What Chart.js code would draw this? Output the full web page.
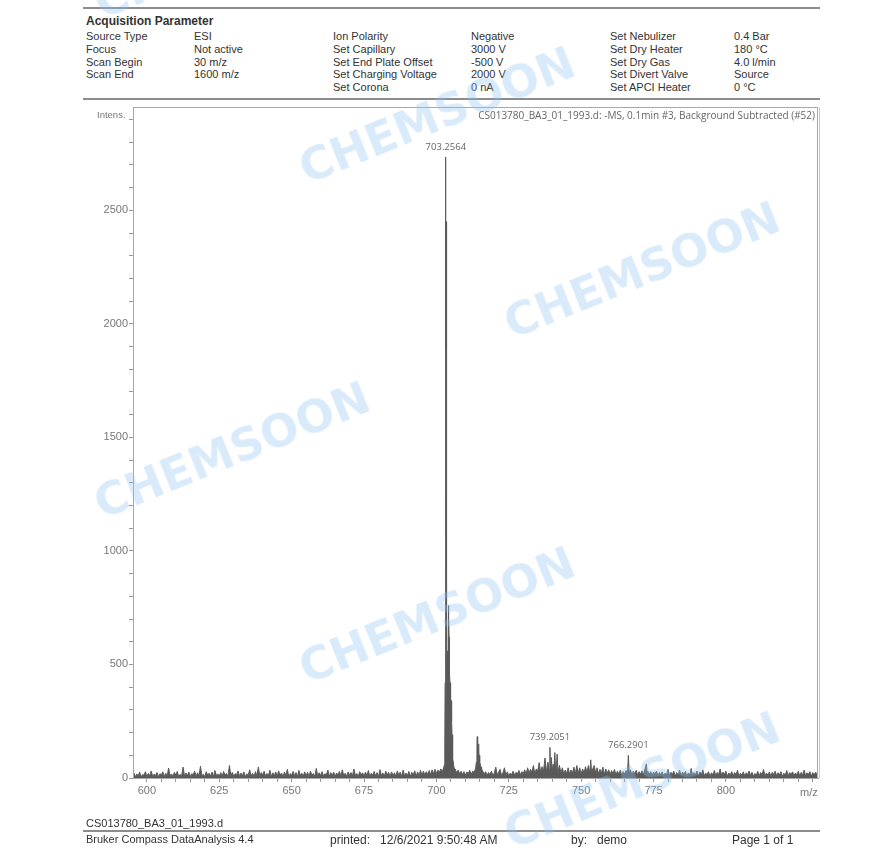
<!DOCTYPE html>
<html>
<head>
<meta charset="utf-8">
<script src="https://cdn.jsdelivr.net/npm/chart.js@4.4.1/dist/chart.umd.min.js"></script>
<style>
  body { margin: 0; background: #fff; width: 874px; height: 866px; position: relative; overflow: hidden;
         font-family: "Liberation Sans", Arial, sans-serif; color: #333; }
  .t { position: absolute; font-size: 11px; line-height: 12px; white-space: nowrap; }
  .f { font-size: 12px; line-height: 14px; }
  .hr { position: absolute; left: 83px; width: 737px; height: 2px; background: #8c8c8c; }
  #wrap { position: absolute; left: 0; top: 0; width: 874px; height: 866px; }
  .wm { position: absolute; font: bold 45px "DejaVu Sans", sans-serif; color: rgba(140, 195, 240, 0.33);
        transform: translate(-50%, -50%) rotate(-22deg); white-space: nowrap; pointer-events: none; }
</style>
</head>
<body>
<div class="hr" style="top:7px"></div>
<div class="t" style="left:86px;top:15px;font-size:12px;font-weight:bold">Acquisition Parameter</div>

<div class="t" style="left:86px;top:30px">Source Type</div>
<div class="t" style="left:86px;top:43px">Focus</div>
<div class="t" style="left:86px;top:56px">Scan Begin</div>
<div class="t" style="left:86px;top:68px">Scan End</div>
<div class="t" style="left:194px;top:30px">ESI</div>
<div class="t" style="left:194px;top:43px">Not active</div>
<div class="t" style="left:194px;top:56px">30 m/z</div>
<div class="t" style="left:194px;top:68px">1600 m/z</div>

<div class="t" style="left:333px;top:30px">Ion Polarity</div>
<div class="t" style="left:333px;top:43px">Set Capillary</div>
<div class="t" style="left:333px;top:56px">Set End Plate Offset</div>
<div class="t" style="left:333px;top:68px">Set Charging Voltage</div>
<div class="t" style="left:333px;top:81px">Set Corona</div>
<div class="t" style="left:471px;top:30px">Negative</div>
<div class="t" style="left:471px;top:43px">3000 V</div>
<div class="t" style="left:471px;top:56px">-500 V</div>
<div class="t" style="left:471px;top:68px">2000 V</div>
<div class="t" style="left:471px;top:81px">0 nA</div>

<div class="t" style="left:610px;top:30px">Set Nebulizer</div>
<div class="t" style="left:610px;top:43px">Set Dry Heater</div>
<div class="t" style="left:610px;top:56px">Set Dry Gas</div>
<div class="t" style="left:610px;top:68px">Set Divert Valve</div>
<div class="t" style="left:610px;top:81px">Set APCI Heater</div>
<div class="t" style="left:734px;top:30px">0.4 Bar</div>
<div class="t" style="left:734px;top:43px">180 °C</div>
<div class="t" style="left:734px;top:56px">4.0 l/min</div>
<div class="t" style="left:734px;top:68px">Source</div>
<div class="t" style="left:734px;top:81px">0 °C</div>
<div class="hr" style="top:98px"></div>

<div id="wrap"><canvas id="spec" width="874" height="866"></canvas></div>

<div class="t" style="left:97px;top:109px;font-size:9.5px;color:#777">Intens.</div>
<div class="t" style="left:800px;top:786px;color:#777">m/z</div>

<div class="t f" style="left:86px;top:816px;font-size:11px">CS013780_BA3_01_1993.d</div>
<div class="hr" style="top:830px"></div>
<div class="t" style="left:86px;top:833px">Bruker Compass DataAnalysis 4.4</div>
<div class="t f" style="left:330px;top:833px">printed:&nbsp;&nbsp; 12/6/2021 9:50:48 AM</div>
<div class="t f" style="left:571px;top:833px">by:&nbsp;&nbsp; demo</div>
<div class="t f" style="left:732px;top:833px">Page 1 of 1</div>

<div class="wm" style="left:232px;top:-50px">CHEMSOON</div>
<div class="wm" style="left:437px;top:115px">CHEMSOON</div>
<div class="wm" style="left:642px;top:270px">CHEMSOON</div>
<div class="wm" style="left:232px;top:450px">CHEMSOON</div>
<div class="wm" style="left:437px;top:615px">CHEMSOON</div>
<div class="wm" style="left:642px;top:780px">CHEMSOON</div>

<script>
// spectrum (m/z vs intensity)
const mz = [
  595,595.5,596,596.5,597,597.5,598,598.5,599,599.5,600,600.5,601,601.5,602,602.5,603,603.5,604,604.5,
  605,605.5,606,606.5,607,607.5,608,608.5,609,609.5,610,610.5,611,611.5,612,612.5,613,613.5,614,614.5,
  615,615.5,616,616.5,617,617.5,618,618.5,619,619.5,620,620.5,621,621.5,622,622.5,623,623.5,624,624.5,
  625,625.5,626,626.5,627,627.5,628,628.5,629,629.5,630,630.5,631,631.5,632,632.5,633,633.5,634,634.5,
  635,635.5,636,636.5,637,637.5,638,638.5,639,639.5,640,640.5,641,641.5,642,642.5,643,643.5,644,644.5,
  645,645.5,646,646.5,647,647.5,648,648.5,649,649.5,650,650.5,651,651.5,652,652.5,653,653.5,654,654.5,
  655,655.5,656,656.5,657,657.5,658,658.5,659,659.5,660,660.5,661,661.5,662,662.5,663,663.5,664,664.5,
  665,665.5,666,666.5,667,667.5,668,668.5,669,669.5,670,670.5,671,671.5,672,672.5,673,673.5,674,674.5,
  675,675.5,676,676.5,677,677.5,678,678.5,679,679.5,680,680.5,681,681.5,682,682.5,683,683.5,684,684.5,
  685,685.5,686,686.5,687,687.5,688,688.5,689,689.5,690,690.5,691,691.5,692,692.5,693,693.5,694,694.5,
  695,695.5,696,696.5,697,697.5,698,698.5,699,699.5,700,700.5,701,701.5,702,702.5,
  702.8,702.9,703.0,703.08,703.14,703.2,703.24,703.28,703.32,703.36,703.4,703.44,703.48,703.52,703.56,703.6,703.65,703.7,703.75,703.8,
  703.85,703.9,703.95,704.0,704.05,704.1,704.15,704.2,704.26,704.32,704.38,704.44,704.5,704.6,704.7,704.8,704.9,705.0,705.1,705.2,
  705.3,705.4,705.5,705.6,705.7,705.8,705.9,706.1,706.5,707,707.5,708,708.5,709,709.5,710,710.5,711,711.5,712,
  712.5,713,713.5,713.8,714.0,714.1,714.2,714.3,714.4,714.5,714.6,714.7,714.8,714.9,715.0,715.2,715.4,715.6,716,716.5,
  717,717.5,718,718.5,719,719.5,720,720.5,721,721.5,722,722.5,723,723.5,724,724.5,725,725.5,726,726.5,
  727,727.5,728,728.5,729,729.5,730,730.5,731,731.5,732,732.5,733,733.5,734,734.5,735,735.5,736,736.5,
  737,737.5,738,738.5,739,739.2,739.4,739.7,740,740.3,740.6,740.9,741.2,741.5,741.7,742,742.5,743,743.5,744,
  744.5,745,745.5,746,746.5,747,747.5,748,748.5,749,749.5,750,750.5,751,751.5,752,752.5,753,753.3,753.6,
  754,754.5,755,755.5,756,756.5,757,757.5,758,758.5,759,759.5,760,760.5,761,761.5,762,762.5,763,763.5,
  764,764.5,765,765.5,766,766.29,766.6,767,767.5,768,768.5,769,769.5,770,770.5,771,771.5,772,772.5,772.8,
  773,773.5,774,774.5,775,775.5,776,776.5,777,777.5,778,778.5,779,779.5,780,780.5,781,781.5,782,782.5,
  783,783.5,784,784.5,785,785.5,786,786.5,787,787.5,788,788.5,789,789.5,790,790.5,791,791.5,792,792.5,
  793,793.5,794,794.5,795,795.5,796,796.5,797,797.5,798,798.5,799,799.5,800,800.5,801,801.5,802,802.5,
  803,803.5,804,804.5,805,805.5,806,806.5,807,807.5,808,808.5,809,809.5,810,810.5,811,811.5,812,812.5,
  813,813.5,814,814.5,815,815.5,816,816.5,817,817.5,818,818.5,819,819.5,820,820.5,821,821.5,822,822.5,
  823,823.5,824,824.5,825,825.5,826,826.5,827,827.5,828,828.5,829,829.5,830,830.5,831,831.5
];
const intensity = [
  8,22,5,18,10,26,4,15,12,28,6,20,9,31,7,17,11,24,5,19,
  13,27,6,21,8,44,10,18,7,25,12,29,5,16,9,48,8,22,11,26,
  6,19,14,30,7,23,9,52,10,17,5,28,12,21,8,26,6,33,11,18,
  9,24,7,29,13,20,6,55,11,25,8,19,14,31,7,22,10,27,5,18,
  12,36,8,21,6,28,10,49,9,24,13,30,7,20,11,34,6,23,9,27,
  8,31,12,22,5,26,10,38,7,19,13,29,9,24,6,33,11,21,8,27,
  10,25,7,30,12,20,6,42,9,23,11,28,8,19,14,35,7,24,10,26,
  6,22,13,29,8,36,10,21,7,27,12,24,9,40,11,20,6,28,13,23,
  8,26,10,33,7,21,12,29,9,24,6,37,11,22,8,30,13,25,7,27,
  10,23,8,31,12,26,6,35,9,22,11,29,7,25,13,32,8,27,10,34,
  12,30,14,28,16,33,15,36,18,38,20,35,24,40,28,45,
  60,140,420,1250,2100,1600,2735,1900,2450,1500,2100,1100,1330,800,1000,600,750,450,560,380,
  480,330,420,300,520,600,680,740,760,700,620,520,500,460,420,400,380,350,340,300,
  250,190,150,110,90,70,60,45,40,22,35,18,30,15,28,12,26,20,34,16,
  30,25,40,70,140,182,120,165,110,150,95,120,80,100,70,60,48,40,30,18,
  28,12,24,15,30,10,22,48,14,26,38,11,24,45,13,27,9,22,15,30,
  12,25,18,33,14,28,20,36,16,45,22,38,25,55,18,40,30,68,25,50,
  30,88,28,70,35,135,30,90,28,60,35,112,30,60,105,25,55,22,45,18,
  35,20,45,18,35,22,48,20,55,22,45,18,40,22,50,25,55,22,80,25,
  40,55,22,45,18,38,22,48,16,40,20,36,15,33,18,38,14,30,17,34,
  12,28,18,33,16,100,20,36,15,30,18,34,12,28,16,32,15,38,62,18,
  30,16,28,12,26,18,30,10,24,14,27,9,22,13,38,11,25,16,30,8,
  24,12,35,10,26,15,29,7,22,13,42,9,24,14,31,8,27,12,36,10,
  21,15,28,6,23,13,33,9,25,14,40,11,26,16,30,8,22,13,28,10,
  24,15,34,7,21,12,27,9,23,14,31,11,25,8,20,13,29,10,24,15,
  37,9,22,12,27,8,25,14,30,10,23,13,28,7,21,12,33,9,24,15,
  27,11,22,14,30,8,25,12,35,10,23,16,28,9,24,13,26,11
];
const peakMz = [703.2564, 739.2051, 766.2901];
const peakIntensity = [2735, 135, 100];
const peakLabels = ['703.2564', '739.2051', '766.2901'];
const xRange = [595.2, 831.8];
const yRange = [0, 2955];

const specTitle = 'CS013780_BA3_01_1993.d: -MS, 0.1min #3, Background Subtracted (#52)';
const axisGray = '#9a9a9a';
const traceGray = '#5a5a5a';

const points = mz.map((m, i) => ({ x: m, y: intensity[i] }));

// frame, run title and peak labels
const annotate = {
  id: 'annotate',
  afterDraw(chart) {
    const { ctx, chartArea: a, scales: { x, y } } = chart;
    ctx.save();
    ctx.strokeStyle = '#a8a8a8';
    ctx.lineWidth = 1;
    ctx.strokeRect(a.left + 0.5, a.top + 0.5, a.right - a.left - 1, a.bottom - a.top);
    ctx.strokeStyle = '#c8c8c8';
    ctx.beginPath();
    ctx.moveTo(a.right + 1.5, a.top);
    ctx.lineTo(a.right + 1.5, a.bottom);
    ctx.stroke();

    ctx.fillStyle = '#666';
    ctx.font = '10px "Open Sans", sans-serif';
    ctx.textAlign = 'right';
    ctx.textBaseline = 'middle';
    ctx.fillText(specTitle, a.right - 3, a.top + 9, 337);

    ctx.font = '9.5px "Open Sans", sans-serif';
    ctx.textAlign = 'center';
    ctx.textBaseline = 'bottom';
    peakMz.forEach((m, i) => {
      ctx.fillText(peakLabels[i], x.getPixelForValue(m), y.getPixelForValue(peakIntensity[i]) - 5);
    });
    ctx.restore();
  }
};

new Chart(document.getElementById('spec'), {
  type: 'line',
  data: {
    datasets: [{
      data: points,
      borderColor: traceGray,
      backgroundColor: traceGray,
      borderWidth: 1,
      pointRadius: 0,
      tension: 0,
      fill: 'origin'
    }]
  },
  options: {
    responsive: false,
    animation: false,
    layout: { padding: { left: 0, right: 56, top: 107, bottom: 60 } },
    plugins: { legend: { display: false }, tooltip: { enabled: false } },
    scales: {
      x: {
        type: 'linear',
        min: xRange[0],
        max: xRange[1],
        afterFit: (s) => { s.height = 28; },
        border: { display: true, color: axisGray },
        grid: { drawOnChartArea: false, drawTicks: true, tickLength: 4, color: axisGray },
        ticks: {
          stepSize: 5,
          includeBounds: false,
          autoSkip: false,
          maxRotation: 0,
          padding: 2,
          color: '#777',
          font: { family: '"Liberation Sans", Arial, sans-serif', size: 11 },
          callback: (v) => (v % 25 === 0 && v <= 800 ? v : '')
        }
      },
      y: {
        min: yRange[0],
        max: yRange[1],
        afterFit: (s) => { s.width = 133; },
        border: { display: true, color: axisGray },
        grid: { drawOnChartArea: false, drawTicks: true, tickLength: 4, color: axisGray },
        ticks: {
          stepSize: 100,
          includeBounds: false,
          autoSkip: false,
          padding: 1,
          color: '#777',
          font: { family: '"Liberation Sans", Arial, sans-serif', size: 11 },
          callback: (v) => (v % 500 === 0 ? v : '')
        }
      }
    }
  },
  plugins: [annotate]
});
</script>
</body>
</html>
